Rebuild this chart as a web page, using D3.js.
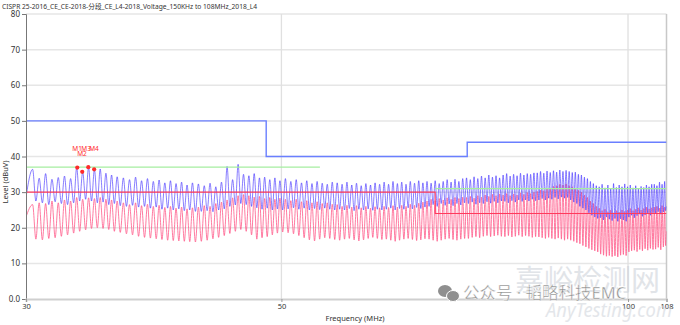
<!DOCTYPE html>
<html><head><meta charset="utf-8">
<script src="https://cdn.jsdelivr.net/npm/d3@7/dist/d3.min.js"></script>
<style>
body{margin:0;background:#fff}
svg{display:block}
text{font-family:"Noto Sans","Noto Sans CJK SC",sans-serif}
</style>
</head><body>
<svg id="c" width="680" height="325"></svg>
<script>
const titleText = "CISPR 25-2016_CE_CE-2018-分段_CE_L4-2018_Voltage_150KHz to 108MHz_2018_L4";
const xLabel = "Frequency (MHz)";
const yLabel = "Level (dBuV)";
const yTickValues = [0,10,20,30,40,50,60,70,80];
const yTickLabels = ["0.0","10","20","30","40","50","60","70","80"];
const xTickValues = [30,50,100,108];
const xTickLabels = ["30","50","100","108"];

// peak frequencies of the ripple (MHz)
const peakFreqs = [
30.4,30.8,31.2,31.6,32.0,32.4,32.8,33.2,33.6,34.0,34.4,34.8,35.2,35.6,36.0,
36.45,36.9,37.35,37.8,38.25,38.7,39.15,39.6,40.05,40.5,40.95,41.4,41.85,
42.35,42.85,43.35,43.85,44.35,44.85,45.35,45.85,46.35,46.85,47.35,47.85,48.35,48.85,49.35,49.85,
50.4,50.95,51.5,52.05,52.6,53.15,53.7,54.25,54.8,55.35,
55.9,56.45,57.0,57.55,58.1,58.65,59.2,59.75,60.3,60.85,
61.4,61.95,62.5,63.05,63.6,64.15,64.7,65.25,65.8,66.35,
66.9,67.45,68.0,68.55,69.1,69.65,70.2,70.75,71.3,71.85,
72.4,72.95,73.5,74.05,74.6,75.15,75.7,76.25,76.8,77.35,
77.9,78.45,79.0,79.55,80.1,80.65,81.2,81.75,82.3,82.85,
83.4,83.95,84.5,85.05,85.6,86.15,86.7,87.25,87.8,88.35,
88.9,89.45,90.0,90.55,91.1,91.65,92.2,92.75,93.3,93.85,
94.4,94.95,95.5,96.05,96.6,97.15,97.7,98.25,98.8,99.35,
99.9,100.45,101.0,101.55,102.1,102.65,103.2,103.75,104.3,104.85,
105.4,105.95,106.5,107.05,107.6];

// peak detector trace (blue): level at each ripple peak and at the following trough
const bluePeaks = [
36.4,33.9,35.2,33.6,34.1,34.5,33.8,36.9,35.7,37.0,36.4,36.5,35.3,34.8,34.3,
34.0,33.5,34.2,33.2,33.8,33.0,33.4,32.6,33.2,32.4,32.8,32.0,32.6,
32.3,31.8,32.5,31.5,32.8,37.2,33.5,37.8,35.0,34.6,35.2,34.0,34.2,33.5,34.0,33.2,
33.8,33.0,33.5,32.6,33.2,32.4,33.0,32.5,32.2,32.8,
32.6,32.2,32.8,32.0,32.5,31.8,32.4,32.0,32.6,32.2,
32.8,32.2,33.0,32.4,32.8,32.2,33.0,32.5,33.2,32.6,
33.0,32.5,33.2,32.4,33.0,33.5,32.8,33.6,33.0,33.8,
34.0,33.5,34.3,33.8,34.5,34.0,34.8,34.2,34.6,34.0,
34.8,35.2,34.5,35.0,34.6,35.3,34.8,35.2,35.0,35.4,
35.4,35.8,35.3,35.9,35.5,36.0,35.6,36.2,35.8,36.1,
35.8,35.5,35.6,35.0,34.8,34.2,33.8,33.0,32.4,31.8,
31.5,32.2,31.2,32.0,31.0,32.4,31.3,32.0,31.5,32.3,
31.5,32.0,31.2,31.8,31.0,31.6,31.3,32.0,31.5,32.2,
32.2,31.8,32.8,32.2,33.0];
const blueTroughs = [
27.5,27.0,26.5,27.3,26.8,26.5,27.0,27.5,28.0,27.5,27.0,27.2,26.5,26.8,26.2,
26.0,26.3,25.8,26.0,25.5,25.8,25.2,25.5,25.0,25.3,24.8,25.0,24.6,
24.6,24.8,24.5,25.0,25.3,26.0,26.4,26.8,26.5,26.0,25.6,25.2,25.5,25.0,25.3,25.0,
25.3,25.6,25.2,25.5,25.0,25.4,25.1,25.5,25.2,25.0,
25.2,25.0,25.4,24.8,25.2,25.0,25.3,24.9,25.2,25.0,
25.2,25.5,25.0,25.4,25.2,25.6,25.3,25.7,25.4,25.8,
26.0,26.5,26.0,26.8,26.3,26.7,26.2,26.8,26.4,27.0,
26.8,27.2,26.6,27.0,26.8,27.3,26.9,27.4,27.0,27.5,
27.4,27.0,27.6,27.2,27.8,27.4,27.8,27.5,28.0,27.6,
27.8,28.2,27.8,28.3,28.0,28.5,28.1,28.6,28.3,28.5,
27.8,27.2,26.8,26.0,25.5,25.0,24.2,23.5,23.0,22.6,
22.8,22.2,23.0,22.4,22.0,22.6,21.8,22.5,22.2,21.8,
23.0,23.5,22.8,23.4,23.8,23.2,23.6,24.0,23.5,24.2,
24.0,24.5,23.8,24.4,24.8];

// average detector trace (pink)
const pinkPeaks = [
26.5,27.0,26.8,27.5,27.0,27.8,27.5,28.5,28.0,28.4,28.2,28.5,28.0,27.8,27.5,
27.0,26.5,27.0,26.2,26.6,26.0,26.3,25.7,26.0,25.5,25.8,25.3,25.6,
25.8,26.2,26.0,26.8,27.2,27.8,28.4,29.0,29.3,29.0,28.6,28.8,28.2,28.5,28.0,28.3,
28.0,27.6,28.0,27.3,27.6,27.0,27.3,26.8,27.0,26.6,
26.5,26.0,26.3,25.8,26.2,25.6,26.0,25.5,25.9,25.6,
26.0,25.7,26.2,25.8,26.3,26.0,26.6,26.3,26.9,27.2,
27.5,28.0,27.6,28.2,27.8,28.4,28.0,28.5,28.2,28.6,
28.5,28.8,28.3,29.0,28.6,29.2,28.8,29.4,29.0,29.5,
29.2,29.6,29.0,29.5,29.2,29.8,29.4,29.9,29.6,30.0,
30.2,30.6,30.4,31.0,31.2,31.6,31.8,32.2,32.0,32.3,
31.8,31.5,31.0,30.5,30.0,29.2,28.5,27.5,26.8,26.0,
25.5,24.8,25.2,24.5,25.0,24.2,24.8,24.4,25.0,24.6,
25.0,25.4,24.8,25.2,25.6,25.0,25.4,25.8,25.3,25.6,
25.8,26.0,25.5,26.2,25.8];
const pinkTroughs = [
16.8,16.6,17.0,17.2,17.6,18.0,18.5,19.0,19.4,19.8,20.0,19.8,19.5,19.0,18.7,
18.3,18.0,17.6,17.3,17.1,16.9,16.7,16.5,16.4,16.3,16.2,16.1,16.0,
16.2,16.5,16.9,17.3,17.8,18.4,19.0,19.5,19.0,18.0,16.8,17.2,17.5,18.0,18.5,18.8,
18.6,18.3,17.8,17.2,16.6,16.3,16.8,17.2,17.0,16.7,
16.5,16.8,17.0,16.6,16.3,16.6,17.0,17.3,17.0,16.7,
16.8,16.5,16.2,16.5,16.8,17.0,16.7,16.4,16.6,16.9,
16.8,16.5,16.2,16.5,16.8,17.0,16.7,16.5,16.8,17.0,
17.0,17.3,17.5,17.2,17.6,17.8,17.5,17.7,17.9,17.6,
17.5,17.8,17.4,17.6,17.9,17.5,17.8,17.6,17.3,17.5,
17.4,17.2,17.0,17.3,17.0,16.8,17.1,16.8,16.5,16.8,
16.5,16.2,15.8,15.5,15.0,14.6,14.2,13.8,13.5,13.2,
12.6,12.3,12.0,12.2,11.9,12.1,11.8,12.3,12.5,12.2,
13.2,13.5,13.7,13.3,13.9,13.5,14.1,13.7,14.2,13.9,
14.0,14.5,13.8,14.6,15.0];
const blueStart = 28.5, blueEnd = 26.0;
const pinkStart = 23.0, pinkEnd = 19.0;

// limit lines
const blueLimitFreq = [30,48.5,48.5,72.5,72.5,108];
const blueLimitLevel = [50,50,40,40,44,44];
const redLimitFreq = [30,68,68,108];
const redLimitLevel = [30,30,24,24];
const greenLimitFreqA = [30,54];
const greenLimitLevelA = [37,37];
const greenLimitFreqB = [68,108];
const greenLimitLevelB = [31,31];

// markers
const markerNames = ["M1","M2","M3","M4"];
const markerFreqs = [33.24,33.57,33.98,34.38];
const markerLevels = [36.9,35.7,37.0,36.4];

const svg = d3.select("#c");
const L = 26, R = 666.5, T = 14, B = 299;
const x = d3.scaleLog().domain([30,108]).range([L,R]);
const y = d3.scaleLinear().domain([0,80]).range([B,T]);

// title
svg.append("text").attr("x",2).attr("y",9).attr("font-size",7.4).attr("fill","#333")
  .attr("textLength",255).attr("lengthAdjust","spacingAndGlyphs").text(titleText);

// grid
const grid = svg.append("g");
grid.selectAll("line.h").data(yTickValues.filter(v=>v>0)).join("line")
  .attr("x1",L).attr("x2",R).attr("y1",d=>y(d)).attr("y2",d=>y(d))
  .attr("stroke","#e6e6e6").attr("stroke-width",1.5);
grid.selectAll("line.v").data([50,100]).join("line")
  .attr("x1",d=>x(d)).attr("x2",d=>x(d)).attr("y1",T).attr("y2",B)
  .attr("stroke","#e0e0e0").attr("stroke-width",1.3);
grid.append("line").attr("x1",R).attr("x2",R).attr("y1",T).attr("y2",B)
  .attr("stroke","#c8c8c8").attr("stroke-width",1.5);

// clip
svg.append("defs").append("clipPath").attr("id","clip").append("rect")
  .attr("x",L).attr("y",T).attr("width",R-L).attr("height",B-T);
const plot = svg.append("g").attr("clip-path","url(#clip)");

function buildTrace(peaks, troughs, start, end){
  const n = Math.min(peakFreqs.length, peaks.length, troughs.length);
  const pts = [[30,start]];
  for(let i=0;i<n;i++){
    pts.push([peakFreqs[i], peaks[i]]);
    const nf = i<n-1 ? peakFreqs[i+1] : 108;
    pts.push([Math.sqrt(peakFreqs[i]*nf), troughs[i]]);
  }
  pts.push([108,end]);
  return pts;
}
const line = d3.line().x(d=>x(d[0])).y(d=>y(d[1])).curve(d3.curveMonotoneX);

plot.append("path").datum(buildTrace(pinkPeaks,pinkTroughs,pinkStart,pinkEnd))
  .attr("d",line).attr("fill","none").attr("stroke","#ff5a8a").attr("stroke-width",1)
  .attr("stroke-opacity",0.8);
plot.append("path").datum(buildTrace(bluePeaks,blueTroughs,blueStart,blueEnd))
  .attr("d",line).attr("fill","none").attr("stroke","#3a28ff").attr("stroke-width",1)
  .attr("stroke-opacity",0.6);

// limits
const lin = d3.line().x(d=>x(d[0])).y(d=>y(d[1]));
const zip = (a,b)=>a.map((v,i)=>[v,b[i]]);
plot.append("path").datum(zip(greenLimitFreqA,greenLimitLevelA)).attr("d",lin)
  .attr("fill","none").attr("stroke","#a6eea0").attr("stroke-width",1.2);
plot.append("path").datum(zip(greenLimitFreqB,greenLimitLevelB)).attr("d",lin)
  .attr("fill","none").attr("stroke","#a6eea0").attr("stroke-width",1.2);
plot.append("path").datum(zip(redLimitFreq,redLimitLevel)).attr("d",lin)
  .attr("fill","none").attr("stroke","#ff3a5c").attr("stroke-width",1.1);
plot.append("path").datum(zip(blueLimitFreq,blueLimitLevel)).attr("d",lin)
  .attr("fill","none").attr("stroke","#6a7fff").attr("stroke-width",1.4);

// axes
const ya = svg.append("g").attr("transform",`translate(${L},0)`)
  .call(d3.axisLeft(y).tickValues(yTickValues).tickFormat((d,i)=>yTickLabels[i]).tickSize(4).tickPadding(2));
ya.select(".domain").attr("stroke","#777");
ya.selectAll(".tick line").attr("stroke","#777");
ya.selectAll("text").attr("font-size",8).attr("fill","#333").attr("font-family","Noto Sans");

const xa = svg.append("g").attr("transform",`translate(0,${B})`)
  .call(d3.axisBottom(x).tickValues(xTickValues).tickFormat((d,i)=>xTickLabels[i]).tickSize(3).tickPadding(2));
xa.select(".domain").attr("stroke","#cfcfcf").attr("stroke-width",2);
xa.selectAll(".tick line").attr("stroke","#999");
xa.selectAll("text").attr("font-size",7.5).attr("fill","#333").attr("font-family","Noto Sans");

svg.append("text").attr("x",355).attr("y",321).attr("text-anchor","middle")
  .attr("font-size",7.5).attr("fill","#333").text(xLabel);
svg.append("text").attr("transform","translate(8,182) rotate(-90)").attr("text-anchor","middle")
  .attr("font-size",7.5).attr("fill","#333").text(yLabel);

// markers
const mk = svg.append("g");
mk.selectAll("circle").data(markerFreqs).join("circle")
  .attr("cx",d=>x(d)).attr("cy",(d,i)=>y(markerLevels[i])).attr("r",2.1).attr("fill","#ff2a2a");
mk.selectAll("text").data(markerNames).join("text")
  .attr("x",(d,i)=>x(markerFreqs[i])-5 - (i===2?2:0))
  .attr("y",(d,i)=> i===1 ? 156 : 151)
  .attr("font-size",6.5).attr("fill","#ff2a2a").text(d=>d);

// watermark
const wm = svg.append("g");
wm.append("text").attr("x",515).attr("y",291).attr("font-size",29).attr("fill","#c9ced6")
  .attr("opacity",0.55).attr("font-family","Noto Sans CJK SC").text("嘉峪检测网");
wm.append("text").attr("x",546).attr("y",317).attr("font-size",20).attr("font-style","italic")
  .attr("fill","#c9ced6").attr("opacity",0.5).attr("font-family","Noto Sans")
  .attr("textLength",126).attr("lengthAdjust","spacingAndGlyphs").text("AnyTesting.com");
wm.append("ellipse").attr("cx",445).attr("cy",291).attr("rx",7).attr("ry",6).attr("fill","#8f8f8f");
wm.append("ellipse").attr("cx",453).attr("cy",296).attr("rx",6.5).attr("ry",5.5).attr("fill","#8f8f8f").attr("stroke","#fff").attr("stroke-width",1);
wm.append("text").attr("x",463).attr("y",299).attr("font-size",16.5).attr("fill","#8a8a8a")
  .attr("stroke","#fff").attr("stroke-width",0.4)
  .attr("font-family","Noto Sans CJK SC").text("公众号 · 韬略科技EMC");
</script>
</body></html>
